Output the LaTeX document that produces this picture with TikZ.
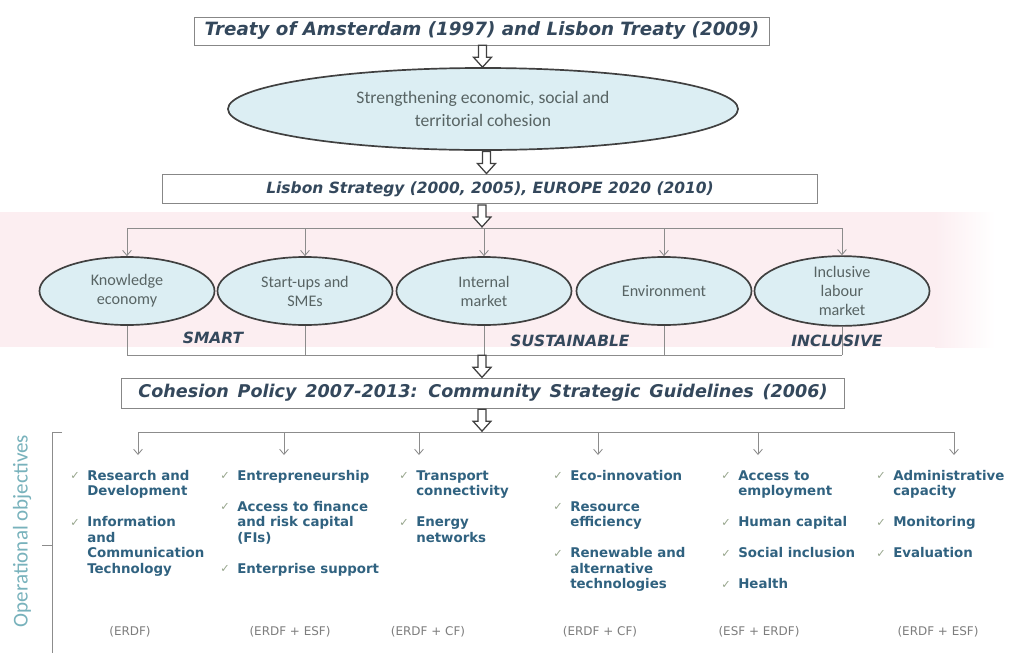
\documentclass[tikz,border=0pt]{standalone}
\usepackage{fontspec}
\setmainfont{DejaVu Sans}
\newfontfamily\calib{Carlito}
\usetikzlibrary{arrows.meta,positioning,calc,shapes.geometric}
\definecolor{eutitle}{RGB}{52,72,92}
\definecolor{euitem}{RGB}{48,98,128}
\definecolor{eufill}{RGB}{220,238,243}
\definecolor{euedge}{RGB}{64,64,64}
\definecolor{eutext}{RGB}{88,100,100}
\definecolor{eubox}{RGB}{135,135,135}
\definecolor{euline}{RGB}{140,140,140}
\definecolor{eufund}{RGB}{125,125,125}
\definecolor{euop}{RGB}{120,178,188}
\definecolor{eupink}{RGB}{252,238,241}
\definecolor{eutick}{RGB}{150,165,140}
\tikzset{
  titlebox/.style={draw=eubox, fill=white, inner sep=0pt, text=eutitle,
                   font=\bfseries\itshape\fontsize{13}{15}\selectfont},
  aim/.style={ellipse, draw=euedge, line width=1.2pt, fill=eufill, inner sep=0pt,
              minimum width=4.375cm, minimum height=1.7cm, align=center, text=eutext,
              font=\calib\fontsize{11.5}{13.5}\selectfont},
  conn/.style={euline, line width=0.6pt},
  tip/.style={-{Straight Barb[length=1.3mm, width=2.2mm]}},
  pillar/.style={text=eutitle, font=\bfseries\itshape\fontsize{11}{13}\selectfont},
  item/.style={anchor=north west, inner sep=0pt, align=left, text=euitem,
               font=\bfseries\fontsize{9.5}{11}\selectfont},
  tick/.style={inner sep=0pt, text=eutick, font=\fontsize{8}{9}\selectfont},
  fund/.style={text=eufund, font=\fontsize{8.5}{10}\selectfont},
  oplab/.style={text=euop, font=\calib\fontsize{15}{17}\selectfont},
  downarr/.pic={\draw[euedge, line width=0.9pt, fill=white, line join=miter]
    (-4,-11) -- (-4,1) -- (-9,1) -- (0,11) -- (9,1) -- (4,1) -- (4,-11) -- cycle;},
}
\newcommand{\objitem}[4]{%
  \node[tick] (#1t) at (#2-12,#3) {✓};
  \node[item] (#1) at (#2,#3-7) {\strut#4};}

\begin{document}
\begin{tikzpicture}[x=0.025cm, y=-0.025cm]
  \useasboundingbox (0,0) rectangle (1015,653);
  \fill[white] (0,0) rectangle (1015,653);
  % band behind the five aims
  \fill[eupink] (0,212) rectangle (935,347);
  \shade[left color=eupink, right color=white] (935,212) rectangle (995,347);

  \node[titlebox, minimum width=14.375cm, minimum height=0.7cm] (treaty) at (482,31)
    {Treaty of Amsterdam (1997) and Lisbon Treaty (2009)};
  \node[aim, minimum width=12.75cm, minimum height=2.05cm,
        font=\calib\fontsize{12.5}{16}\selectfont] (goal) at (483,109)
    {Strengthening economic, social and\\territorial cohesion};
  \node[titlebox, minimum width=16.375cm, minimum height=0.725cm,
        font=\bfseries\itshape\fontsize{11}{13}\selectfont] (lisbon) at (490,189)
    {Lisbon Strategy (2000, 2005), EUROPE 2020 (2010)};
  \pic at ($(treaty.south)!.5!(goal.north)$) {downarr};
  \pic at ($(goal.south)!.5!(lisbon.north)$) {downarr};

  % five aims
  \coordinate (aimbar) at (482,228);
  \coordinate (pillbar) at (482,355);
  \node[aim] (know) at (127,291) {Knowledge\\economy};
  \node[aim] (smes) at (305,291) {Start-ups and\\SMEs};
  \node[aim] (intm) at (484,291) {Internal\\market};
  \node[aim] (envi) at (664,291) {Environment};
  \node[aim] (labm) at (842,291) {Inclusive\\labour\\market};
  \pic at ($(lisbon.south -| aimbar)!.5!(aimbar)$) {downarr};
  \draw[conn] (know.north |- aimbar) -- (labm.north |- aimbar);
  \draw[conn] (know.south |- pillbar) -- (labm.south |- pillbar);
  \foreach \a in {know,smes,intm,envi,labm}{
    \draw[conn, tip] (\a.north |- aimbar) -- (\a.north);
    \draw[conn] (\a.south) -- (\a.south |- pillbar);
  }
  \node[pillar] (smart) at (213,338) {SMART};
  \node[pillar] (sust) at (570,341) {SUSTAINABLE};
  \node[pillar] (incl) at (837,341) {INCLUSIVE};

  \node[titlebox, minimum width=18.075cm, minimum height=0.75cm,
        font=\bfseries\itshape\fontsize{12.5}{15}\selectfont] (cohesion) at (483,393)
    {\spaceskip=0.5em\relax Cohesion Policy 2007-2013: Community Strategic Guidelines (2006)};
  \pic at ($(pillbar)!.5!(cohesion.north -| pillbar)$) {downarr};

  % operational objectives
  \coordinate (opbar) at (482,432);
  \pic at ($(cohesion.south -| opbar)!.5!(opbar)$) {downarr};
  \foreach \x [count=\i] in {138,284,419,598,758,954}
    \coordinate (col\i) at (\x,455);
  \draw[conn] (col1 |- opbar) -- (col6 |- opbar);
  \foreach \i in {1,...,6}
    \draw[conn, tip] (col\i |- opbar) -- (col\i);

  \objitem{rd}{87}{476}{Research and\\Development}
  \objitem{ict}{87}{522.5}{Information\\and\\Communication\\Technology}
  \objitem{entr}{237}{476}{Entrepreneurship}
  \objitem{fin}{237}{507}{Access to finance\\and risk capital\\(FIs)}
  \objitem{ent}{237}{569}{Enterprise support}
  \objitem{trans}{416}{476}{Transport\\connectivity}
  \objitem{energy}{416}{522.5}{Energy\\networks}
  \objitem{eco}{570}{476}{Eco-innovation}
  \objitem{res}{570}{507}{Resource\\efficiency}
  \objitem{ren}{570}{553.5}{Renewable and\\alternative\\technologies}
  \objitem{empl}{738}{476}{Access to\\employment}
  \objitem{hum}{738}{522.5}{Human capital}
  \objitem{soc}{738}{553.5}{Social inclusion}
  \objitem{hlth}{738}{584.5}{Health}
  \objitem{adm}{893}{476}{Administrative\\capacity}
  \objitem{mon}{893}{522.5}{Monitoring}
  \objitem{eval}{893}{553.5}{Evaluation}

  \node[fund] (f1) at (130,632) {(ERDF)};
  \node[fund] (f2) at (290,632) {(ERDF + ESF)};
  \node[fund] (f3) at (428,632) {(ERDF + CF)};
  \node[fund] (f4) at (600,632) {(ERDF + CF)};
  \node[fund] (f5) at (759,632) {(ESF + ERDF)};
  \node[fund] (f6) at (938,632) {(ERDF + ESF)};

  \coordinate (brtop) at (62,432);
  \coordinate (brmid) at (52,545);
  \coordinate (brbot) at (52,653);
  \draw[conn] (brtop) -- (brtop -| brbot) -- (brbot);
  \draw[conn] (brmid) -- ++(-10,0);
  \node[oplab, rotate=90] (oplab) at (22,531) {Operational objectives};
\end{tikzpicture}
\end{document}
